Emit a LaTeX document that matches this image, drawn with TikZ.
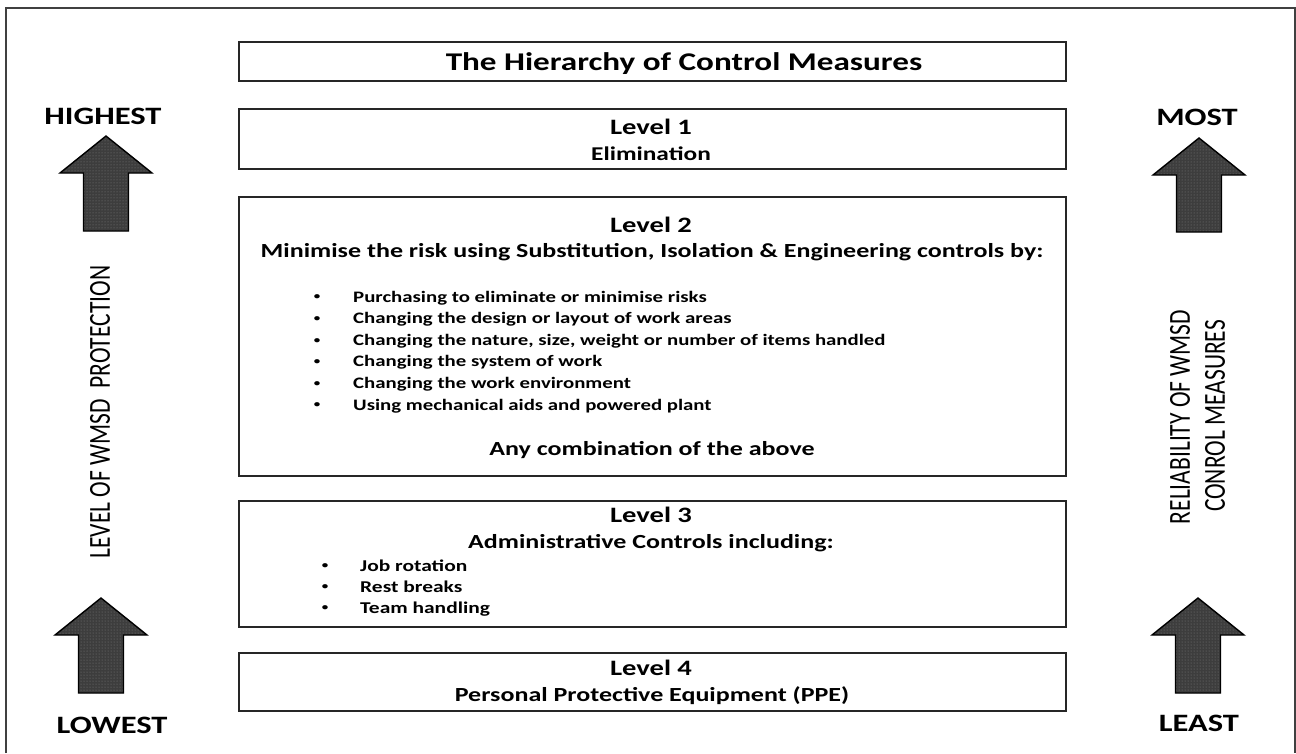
\documentclass[tikz,border=0pt]{standalone}
\usepackage{fontspec}
\setmainfont{Carlito}
\usetikzlibrary{patterns}
\newcommand{\hs}[1]{\scalebox{1.3}[1]{#1}}
\newcommand{\vs}[1]{\scalebox{1}[1.3]{#1}}
\newcommand{\fs}[1]{\fontsize{#1}{#1}\selectfont}
\newcommand{\smallbul}{\raisebox{2.2pt}{\fs{10}•}}
\newcommand{\bigup}[4]{%
  \fill[black!76] (#1,#2) -- (#1+46,#3) -- (#1+22.5,#3) -- (#1+22.5,#4) -- (#1-22.5,#4) -- (#1-22.5,#3) -- (#1-46,#3) -- cycle;
  \fill[pattern=dots, pattern color=white!50!black] (#1,#2) -- (#1+46,#3) -- (#1+22.5,#3) -- (#1+22.5,#4) -- (#1-22.5,#4) -- (#1-22.5,#3) -- (#1-46,#3) -- cycle;
  \draw[black, line width=1.4pt, line join=miter] (#1,#2) -- (#1+46,#3) -- (#1+22.5,#3) -- (#1+22.5,#4) -- (#1-22.5,#4) -- (#1-22.5,#3) -- (#1-46,#3) -- cycle;}
\tikzset{
  box/.style={draw=black!85, line width=1.6pt, rectangle, inner sep=0pt, anchor=north west},
  frame/.style={draw=black!75, line width=1.8pt},
  txt/.style={inner sep=0pt, anchor=base, text=black},
  bul/.style={inner sep=0pt, anchor=base, text=black, font=\bfseries},
  itm/.style={inner sep=0pt, anchor=base west, text=black, font=\bfseries\fs{16}},
}
\begin{document}
\begin{tikzpicture}[x=1pt,y=-1pt]
\useasboundingbox (0,0) rectangle (1296,753);
\fill[white] (0,0) rectangle (1296,753);
% outer frame (open at the bottom)
\draw[frame] (6,753) -- (6,8) -- (1295,8) -- (1295,753);

% boxes
\node[box, minimum width=827pt, minimum height=39pt] (tbox) at (238,41) {};
\node[box, minimum width=827pt, minimum height=60pt] (l1box) at (238,108) {};
\node[box, minimum width=827pt, minimum height=279pt] (l2box) at (238,196) {};
\node[box, minimum width=827pt, minimum height=126pt] (l3box) at (238,500) {};
\node[box, minimum width=827pt, minimum height=58pt] (l4box) at (238,652) {};

% title
\node[txt, font=\bfseries\fs{25.5}] (title) at (684,70) {\hs{The Hierarchy of Control Measures}};

% level 1
\node[txt, font=\bfseries\fs{22}] (lv1) at (651,134) {\hs{Level 1}};
\node[txt, font=\bfseries\fs{19.5}] (elim) at (651,160) {\hs{Elimination}};

% level 2
\node[txt, font=\bfseries\fs{22}] (lv2) at (651,232) {\hs{Level 2}};
\node[txt, font=\bfseries\fs{20}] (mini) at (652,257) {\hs{Minimise the risk using Substitution, Isolation \& Engineering controls by:}};
\foreach \t [count=\i] in {Purchasing to eliminate or minimise risks,
  Changing the design or layout of work areas,
  {Changing the nature, size, weight or number of items handled},
  Changing the system of work,
  Changing the work environment,
  Using mechanical aids and powered plant}{
  \node[bul] (bb\i) at (317,{302+21.6*(\i-1)}) {\hs{\smallbul}};
  \node[itm] (bt\i) at (353,{302+21.6*(\i-1)}) {\hs{\t}};
}
\node[txt, font=\bfseries\fs{20}] (anyc) at (652,455) {\hs{Any combination of the above}};

% level 3
\node[txt, font=\bfseries\fs{22}] (lv3) at (651,522) {\hs{Level 3}};
\node[txt, font=\bfseries\fs{20}] (admin) at (651,548) {\hs{Administrative Controls including:}};
\foreach \t [count=\i] in {Job rotation, Rest breaks, Team handling}{
  \node[bul] (cb\i) at (325,{571+21*(\i-1)}) {\hs{\smallbul}};
  \node[itm, font=\bfseries\fs{16.5}] (ct\i) at (360,{571+21*(\i-1)}) {\hs{\t}};
}

% level 4
\node[txt, font=\bfseries\fs{22}] (lv4) at (651,675) {\hs{Level 4}};
\node[txt, font=\bfseries\fs{20}] (ppe) at (652,701) {\hs{Personal Protective Equipment (PPE)}};

% side labels
\node[txt, font=\bfseries\fs{25}] (high) at (103,124) {\hs{HIGHEST}};
\node[txt, font=\bfseries\fs{25}] (low) at (112,733) {\hs{LOWEST}};
\node[txt, font=\bfseries\fs{25}] (most) at (1197,125) {\hs{MOST}};
\node[txt, font=\bfseries\fs{25}] (least) at (1199,731) {\hs{LEAST}};

\node[inner sep=0pt, rotate=90, font=\fs{23.5}] (protect) at (100,412) {\vs{LEVEL OF WMSD\ \ PROTECTION}};
\node[inner sep=0pt, rotate=90, font=\fs{23.5}] (rel1) at (1180,417) {\vs{RELIABILITY OF WMSD}};
\node[inner sep=0pt, rotate=90, font=\fs{23.5}] (rel2) at (1215,416) {\vs{CONROL MEASURES}};

% arrows
\bigup{106}{136}{173}{231}
\bigup{101}{598}{635}{693}
\bigup{1199}{138}{175}{232}
\bigup{1198}{598}{635}{693}
\end{tikzpicture}
\end{document}
